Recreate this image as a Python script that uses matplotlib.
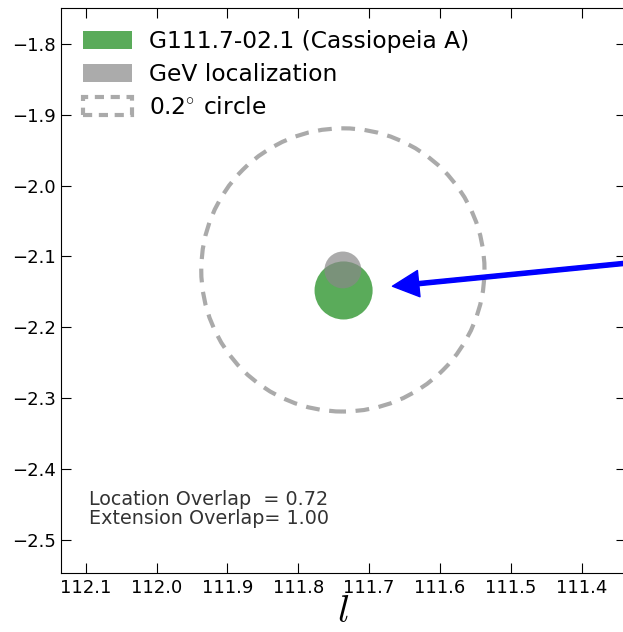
import numpy as np
import matplotlib
matplotlib.use('Agg')
import matplotlib.pyplot as plt
from matplotlib.patches import Circle, Patch

plt.rcParams['mathtext.fontset'] = 'cm'

# source positions (galactic l, b in deg) and radii
snr_name = 'G111.7-02.1 (Cassiopeia A)'
snr_l, snr_b, snr_r = 111.736, -2.148, 0.041
gev_l, gev_b, gev_r = 111.737, -2.119, 0.026
circle_r = 0.2

xticks = [112.1, 112.0, 111.9, 111.8, 111.7, 111.6, 111.5, 111.4]
yticks = [-1.8, -1.9, -2.0, -2.1, -2.2, -2.3, -2.4, -2.5]

loc_overlap = 0.72
ext_overlap = 1.00

# arrow pointing at the source
arrow_tip = (111.667, -2.142)
arrow_tail = (111.20, -2.096)

fig = plt.figure(figsize=(6.23, 6.32), dpi=100)
ax = fig.add_axes([0.098, 0.0934, 0.907, 0.894])

green = '#5aab5a'
grey = '#888888'

c1 = Circle((snr_l, snr_b), snr_r, color=green, lw=0)
c2 = Circle((gev_l, gev_b), gev_r, color=grey, alpha=0.7, lw=0)
c3 = Circle((gev_l, gev_b), circle_r, fill=False, ec='#aaaaaa', lw=3,
            ls=(0, (3.3, 2.3)))
ax.add_patch(c1)
ax.add_patch(c2)
ax.add_patch(c3)

ax.annotate('', xy=arrow_tip, xytext=arrow_tail, annotation_clip=False,
            arrowprops=dict(color='blue', width=3, headwidth=19, headlength=19))

ax.set_xlim(112.135, 111.337)
ax.set_ylim(-2.547, -1.749)
ax.set_xticks(xticks)
ax.set_yticks(yticks)
ax.set_xticklabels(['%.1f' % v for v in xticks])
ax.tick_params(direction='in', top=True, right=True, length=7, labelsize=13)
ax.tick_params(axis='x', pad=4)
ax.set_xlabel('$l$', fontsize=28, labelpad=-3)

handles = [Patch(color=green, lw=0),
           Patch(color=grey, alpha=0.7, lw=0),
           Patch(fill=False, ec='#aaaaaa', lw=3, ls=(0, (2.2, 1.6)))]
ax.legend(handles, [snr_name, 'GeV localization', r'0.2$^{\circ}$ circle'],
          loc='upper left', frameon=False, fontsize=16.8, handlelength=2.1,
          handleheight=0.8, handletextpad=0.7, borderaxespad=0.55,
          labelspacing=0.42)

ax.text(0.05, 0.087, 'Location Overlap  = %.2f\nExtension Overlap= %.2f' % (loc_overlap, ext_overlap),
        transform=ax.transAxes, fontsize=13.8, color='#333333', linespacing=1.0)

fig.savefig('out.png', dpi=100)
